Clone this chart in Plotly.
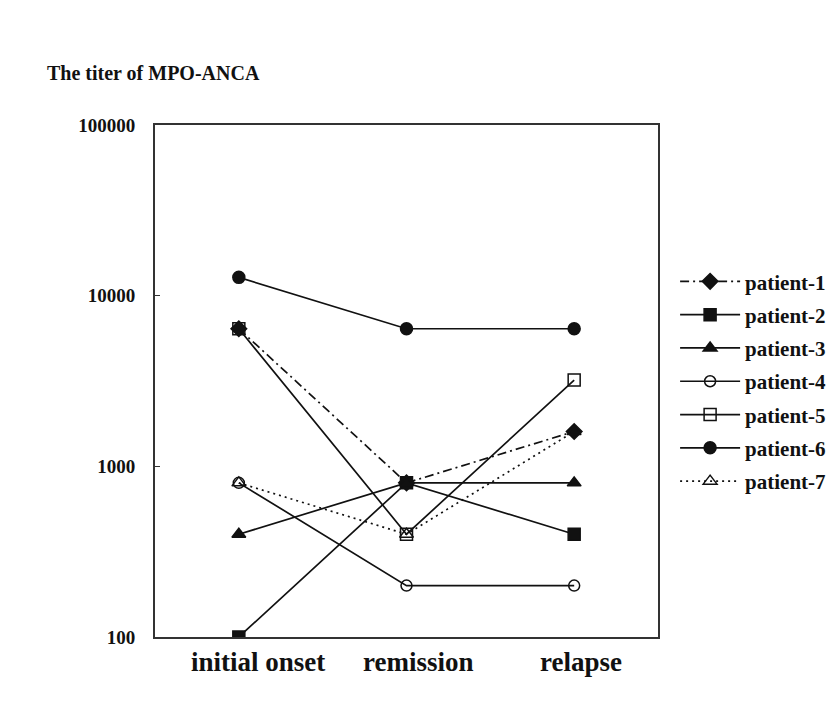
import plotly.graph_objects as go

stages = ["initial onset", "remission", "relapse"]
patients = ["patient-1", "patient-2", "patient-3", "patient-4", "patient-5", "patient-6", "patient-7"]
p1 = [6400, 800, 1600]
p2 = [100, 800, 400]
p3 = [400, 800, 800]
p4 = [800, 200, 200]
p5 = [6400, 400, 3200]
p6 = [12800, 6400, 6400]
p7 = [800, 400, 1600]
series = [p1, p2, p3, p4, p5, p6, p7]

dashes = ["9px,4px,2px,4px", "solid", "solid", "solid", "solid", "solid", "2px,4px"]
symbols = ["diamond", "square", "triangle-up", "circle-open", "square-open", "circle", "triangle-up-open"]
sizes = [12, 12, 12, 11, 12, 12, 12]
label_shift = [19, 12, 7]

ytick_vals = [100, 1000, 10000, 100000]
ytick_text = ["100", "1000", "10000", "100000"]

fig = go.Figure()
for name, vals, d, s, sz in zip(patients, series, dashes, symbols, sizes):
    fig.add_trace(go.Scatter(
        x=stages, y=vals, name=name, mode="lines+markers", legendgroup=name,
        line=dict(color="#111111", width=1.7, dash=d),
        marker=dict(symbol=s, size=sz, color="#111111",
                    line=dict(color="#111111", width=1.5)),
    ))

serif = "Liberation Serif"
for st, sh in zip(stages, label_shift):
    fig.add_annotation(x=st, xref="x", y=0, yref="paper", text=st, showarrow=False,
                       xanchor="center", yanchor="middle", xshift=sh, yshift=-25,
                       font=dict(family=serif, size=27, weight="bold", color="#111111"))

fig.update_layout(
    width=836, height=726,
    paper_bgcolor="white", plot_bgcolor="white",
    margin=dict(l=147, r=186, t=117, b=97),
    font=dict(family=serif, color="#111111"),
    title=dict(text="The titer of MPO-ANCA", x=39/836, xanchor="left",
               y=1-65/726, yanchor="middle",
               font=dict(family=serif, size=20, weight="bold", color="#111111")),
    legend=dict(x=1.034, xanchor="left", y=0.734, yanchor="top",
                font=dict(family=serif, size=21, weight="bold", color="#111111"),
                itemwidth=60, tracegroupgap=3, bgcolor="rgba(0,0,0,0)"),
    showlegend=True,
)
fig.update_xaxes(range=[-0.5, 2.5], showline=True, mirror=True, linecolor="#333333",
                 linewidth=2, showgrid=False, ticks="", zeroline=False,
                 showticklabels=False)
fig.update_yaxes(type="log", range=[2, 5], showline=True, mirror=True, linecolor="#333333",
                 linewidth=2, showgrid=False, ticks="inside", ticklen=5, tickcolor="#333333",
                 tickvals=ytick_vals, ticktext=ytick_text, zeroline=False,
                 ticklabelstandoff=14,
                 tickfont=dict(family=serif, size=19, weight="bold", color="#111111"))

fig.write_html("out.html")
